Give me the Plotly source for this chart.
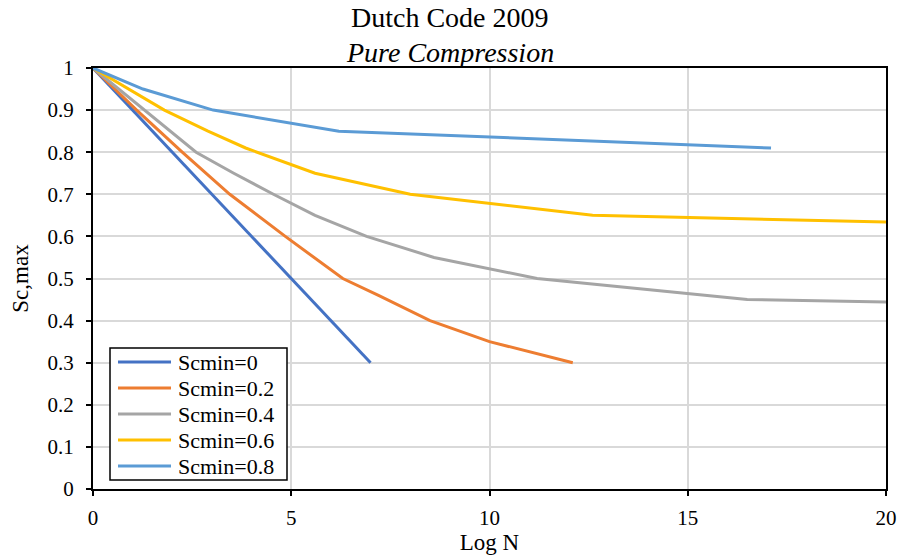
import plotly.graph_objects as go

# Fatigue curves: log N versus maximum relative stress for several minimum stress levels
series_names = ["Scmin=0", "Scmin=0.2", "Scmin=0.4", "Scmin=0.6", "Scmin=0.8"]

logn_s0 = [0, 7.0]
smax_s0 = [1.0, 0.30]

logn_s02 = [0, 1.1, 2.25, 3.45, 4.85, 6.3, 7.2, 8.5, 10.0, 12.1]
smax_s02 = [1.0, 0.90, 0.80, 0.70, 0.60, 0.50, 0.46, 0.40, 0.35, 0.30]

logn_s04 = [0, 1.3, 2.6, 3.55, 4.55, 5.6, 6.9, 8.6, 11.2, 16.5, 20.0]
smax_s04 = [1.0, 0.90, 0.80, 0.75, 0.70, 0.65, 0.60, 0.55, 0.50, 0.45, 0.444]

logn_s06 = [0, 1.8, 2.9, 3.85, 5.6, 8.0, 12.6, 20.0]
smax_s06 = [1.0, 0.90, 0.85, 0.81, 0.75, 0.70, 0.65, 0.634]

logn_s08 = [0, 1.26, 3.03, 6.2, 17.1]
smax_s08 = [1.0, 0.95, 0.90, 0.85, 0.81]

colors = ["#4472C4", "#ED7D31", "#A5A5A5", "#FFC000", "#5B9BD5"]

x_ticks = [0, 5, 10, 15, 20]
y_ticks = [0, 0.1, 0.2, 0.3, 0.4, 0.5, 0.6, 0.7, 0.8, 0.9, 1.0]
y_tick_text = ["0", "0.1", "0.2", "0.3", "0.4", "0.5", "0.6", "0.7", "0.8", "0.9", "1"]

xs = [logn_s0, logn_s02, logn_s04, logn_s06, logn_s08]
ys = [smax_s0, smax_s02, smax_s04, smax_s06, smax_s08]

FONT = "Liberation Serif, Times New Roman, serif"

W, H = 900, 555
ML, MR, MT, MB = 93, 14, 68, 66
PW, PH = W - ML - MR, H - MT - MB


def px_to_paper(px, py):
    return (px - ML) / PW, (H - MB - py) / PH


fig = go.Figure()
for name, x, y, c in zip(series_names, xs, ys, colors):
    fig.add_trace(go.Scatter(
        x=x, y=y, name=name, mode="lines",
        line=dict(color=c, width=3),
        showlegend=False,
    ))

axis_common = dict(
    showline=True, linecolor="black", linewidth=2, mirror=True,
    showgrid=True, gridcolor="#D9D9D9", gridwidth=1.5,
    zeroline=False, automargin=False,
    ticks="outside", ticklen=5, tickwidth=1.5, tickcolor="black",
    tickfont=dict(family=FONT, size=21, color="black"),
)

fig.update_xaxes(
    range=[0, 20], tickvals=x_ticks,
    title=dict(text="Log N", font=dict(family=FONT, size=23, color="black"), standoff=0),
    ticklabelstandoff=4,
    **axis_common,
)
fig.update_yaxes(
    range=[0, 1], tickvals=y_ticks, ticktext=y_tick_text,
    title=dict(text="Sc,max", font=dict(family=FONT, size=23, color="black"), standoff=12),
    ticklabelstandoff=8,
    **axis_common,
)

# Chart titles, centred on the full figure width
title_x = (W / 2 - ML) / PW
fig.add_annotation(text="Dutch Code 2009", xref="paper", yref="paper",
                   x=title_x, y=1.0, xanchor="center", yanchor="middle",
                   yshift=MT - 17, showarrow=False,
                   font=dict(family=FONT, size=28, color="black"))
fig.add_annotation(text="<i>Pure Compression</i>", xref="paper", yref="paper",
                   x=title_x, y=1.0, xanchor="center", yanchor="middle",
                   yshift=MT - 52, showarrow=False,
                   font=dict(family=FONT, size=28, color="black"))

# Legend box with line samples and series names
box_l, box_r, box_t, box_b = 110, 287, 348, 480
x0, y0 = px_to_paper(box_l, box_b)
x1, y1 = px_to_paper(box_r, box_t)
fig.add_shape(type="rect", xref="paper", yref="paper", x0=x0, y0=y0, x1=x1, y1=y1,
              line=dict(color="black", width=1.5), fillcolor="white", layer="above")
row_h = 26
for i, (name, c) in enumerate(zip(series_names, colors)):
    cy = box_t + 14 + i * row_h
    lx0, ly = px_to_paper(118, cy)
    lx1, _ = px_to_paper(171, cy)
    fig.add_shape(type="line", xref="paper", yref="paper", x0=lx0, x1=lx1, y0=ly, y1=ly,
                  line=dict(color=c, width=3), layer="above")
    tx, _ = px_to_paper(176, cy)
    fig.add_annotation(text=name, xref="paper", yref="paper", x=tx, y=ly,
                       xanchor="left", yanchor="middle", showarrow=False,
                       font=dict(family=FONT, size=22, color="black"))

fig.update_layout(
    width=W, height=H,
    margin=dict(l=ML, r=MR, t=MT, b=MB),
    paper_bgcolor="white", plot_bgcolor="white",
    showlegend=False,
)

fig.write_html("out.html")
